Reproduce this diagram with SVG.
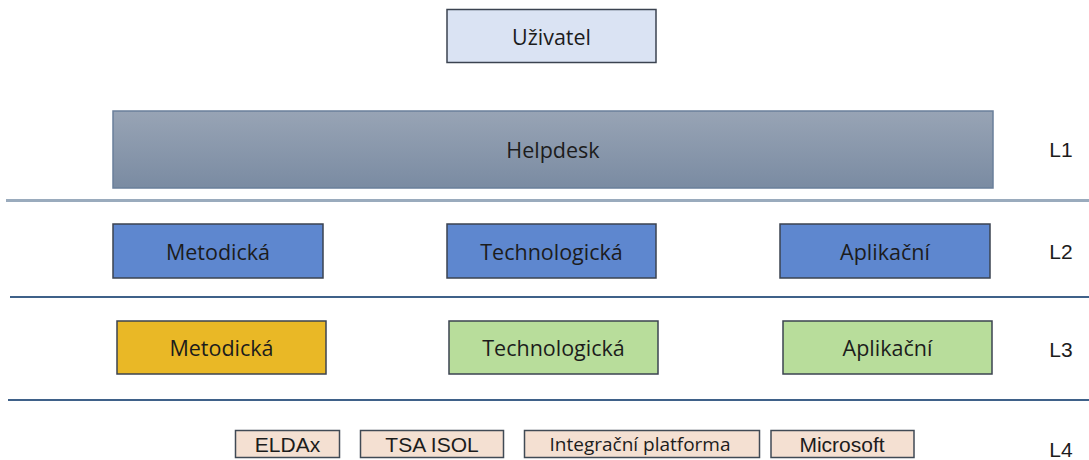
<svg xmlns="http://www.w3.org/2000/svg" width="1089" height="460" viewBox="0 0 1089 460">
<defs>
<linearGradient id="hd" x1="0" y1="0" x2="0" y2="1">
<stop offset="0" stop-color="#98a4b5"/>
<stop offset="1" stop-color="#7a8ba2"/>
</linearGradient>
</defs>
<style>
text{font-family:"Open Sans","Liberation Sans",sans-serif;fill:#1c1c1c;text-anchor:middle;dominant-baseline:central}
.t{font-size:21.5px}
.s{font-size:19px}
.a{font-family:"Liberation Sans",Arial,sans-serif;font-size:21px}
.lvl{font-family:"Liberation Sans",Arial,sans-serif;font-size:21px;text-anchor:middle}
.box{stroke:#3b4350;stroke-width:1.5}
.user{fill:#dae3f3}
.blue{fill:#5e87cf}
.gold{fill:#e9b826}
.green{fill:#b8dd9b}
.peach{fill:#f4e0d2;stroke:#404a55;stroke-width:1.5}
</style>
<rect width="1089" height="460" fill="#ffffff"/>
<g id="separators">
<line x1="6" y1="200.5" x2="1089" y2="200.5" stroke="#9aabbd" stroke-width="3"/>
<line x1="10" y1="297" x2="1089" y2="297" stroke="#3f6189" stroke-width="2"/>
<line x1="8" y1="400" x2="1089" y2="400" stroke="#3f6189" stroke-width="2"/>
</g>
<g id="connectors"></g>
<g id="uzivatel"><rect class="box user" x="447" y="9.5" width="209" height="53"/><text class="t" x="551.5" y="36">Uživatel</text></g>
<g id="helpdesk"><rect x="113" y="111" width="880" height="77" fill="url(#hd)" stroke="#6a7f9a" stroke-width="1.5"/><text class="t" x="553" y="149.5">Helpdesk</text></g>
<g id="l2-metodicka"><rect class="box blue" x="113" y="224" width="210" height="54"/><text class="t" x="218" y="251">Metodická</text></g>
<g id="l2-technologicka"><rect class="box blue" x="447" y="224" width="209" height="54"/><text class="t" x="551.5" y="251">Technologická</text></g>
<g id="l2-aplikacni"><rect class="box blue" x="780" y="224" width="210" height="54"/><text class="t" x="885" y="251">Aplikační</text></g>
<g id="l3-metodicka"><rect class="box gold" x="117" y="321" width="209" height="53"/><text class="t" x="221.5" y="347.5">Metodická</text></g>
<g id="l3-technologicka"><rect class="box green" x="449" y="321" width="209" height="53"/><text class="t" x="553.5" y="347.5">Technologická</text></g>
<g id="l3-aplikacni"><rect class="box green" x="783" y="321" width="209" height="53"/><text class="t" x="887.5" y="347.5">Aplikační</text></g>
<g id="eldax"><rect class="peach" x="235.5" y="430.5" width="104" height="27"/><text class="a" x="287.5" y="444">ELDAx</text></g>
<g id="tsa-isol"><rect class="peach" x="360.5" y="430.5" width="143" height="27"/><text class="a" x="432" y="444">TSA ISOL</text></g>
<g id="integracni"><rect class="peach" x="524.5" y="430.5" width="235" height="27"/><text class="s" x="640" y="444">Integrační platforma</text></g>
<g id="microsoft"><rect class="peach" x="771" y="430.5" width="143" height="27"/><text class="a" x="842" y="444">Microsoft</text></g>
<g id="levels">
<text class="lvl" x="1061" y="149">L1</text>
<text class="lvl" x="1061" y="251">L2</text>
<text class="lvl" x="1061" y="349">L3</text>
<text class="lvl" x="1061" y="449">L4</text>
</g>
</svg>
